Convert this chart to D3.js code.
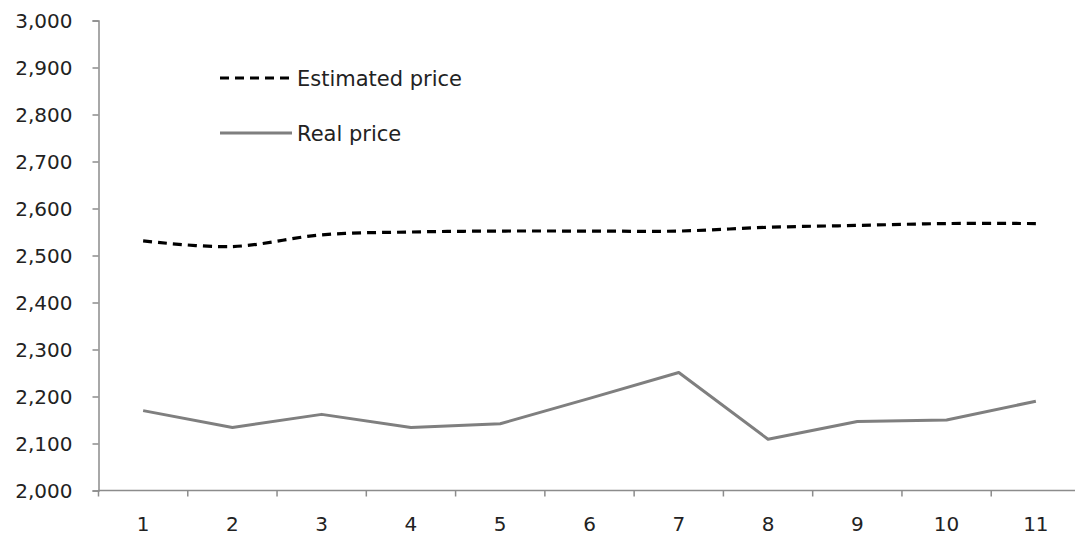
<!DOCTYPE html>
<html>
<head>
<meta charset="utf-8">
<script src="https://cdn.jsdelivr.net/npm/d3@7"></script>
<style>
  html, body { margin: 0; padding: 0; background: #fff; }
  svg { display: block; }
  text { font-family: "DejaVu Sans", Verdana, sans-serif; fill: #222; }
</style>
</head>
<body>
<svg id="chart" width="1075" height="535"></svg>
<script>
const categories = ["1","2","3","4","5","6","7","8","9","10","11"];
const estimatedPrice = [2531, 2519, 2544, 2550, 2552, 2552, 2552, 2560, 2564, 2568, 2568];
const realPrice = [2170, 2134, 2162, 2134, 2142, 2196, 2251, 2109, 2147, 2150, 2190];
const yTicks = [2000, 2100, 2200, 2300, 2400, 2500, 2600, 2700, 2800, 2900, 3000];
const seriesNames = ["Estimated price", "Real price"];

const svg = d3.select("#chart");
const x = d3.scaleBand().domain(categories).range([98.5, 1080.5]);
const y = d3.scaleLinear().domain([2000, 3000]).range([490.5, 20.5]);

// Y axis
const yAxis = d3.axisLeft(y).tickValues(yTicks).tickSize(6).tickPadding(20)
  .tickFormat(d3.format(","));
const gy = svg.append("g").attr("transform", "translate(98.5,0)").call(yAxis);
gy.selectAll("path, line").attr("stroke", "#8c8c8c").attr("stroke-width", 1.5);
gy.selectAll("text").attr("font-size", 20).attr("dy", "0.35em")
  .attr("font-family", "DejaVu Sans").attr("fill", "#222");

// X axis with ticks at band boundaries
const gx = svg.append("g").attr("transform", "translate(0,490.5)");
gx.append("line").attr("x1", x.range()[0]).attr("x2", x.range()[1])
  .attr("stroke", "#8c8c8c").attr("stroke-width", 1.5);
gx.selectAll("line.tick").data(categories).join("line").attr("class", "tick")
  .attr("x1", d => x(d)).attr("x2", d => x(d)).attr("y1", 0).attr("y2", 6)
  .attr("stroke", "#8c8c8c").attr("stroke-width", 1.5);
gx.selectAll("text").data(categories).join("text")
  .attr("x", d => x(d) + x.bandwidth() / 2).attr("y", 40)
  .attr("text-anchor", "middle").attr("font-size", 20).text(d => d);

const cx = (d, i) => x(categories[i]) + x.bandwidth() / 2;

// Estimated (smoothed dashed)
svg.append("path").datum(estimatedPrice)
  .attr("d", d3.line().x(cx).y(d => y(d)).curve(d3.curveCatmullRom.alpha(0.5)))
  .attr("fill", "none").attr("stroke", "#000").attr("stroke-width", 3.2)
  .attr("stroke-dasharray", "9,6");

// Real (straight gray)
svg.append("path").datum(realPrice)
  .attr("d", d3.line().x(cx).y(d => y(d)))
  .attr("fill", "none").attr("stroke", "#7f7f7f").attr("stroke-width", 3)
  .attr("stroke-linejoin", "round");

// Legend
const legend = svg.append("g");
legend.append("line").attr("x1", 220).attr("x2", 292).attr("y1", 78).attr("y2", 78)
  .attr("stroke", "#000").attr("stroke-width", 3.2).attr("stroke-dasharray", "9,6");
legend.append("line").attr("x1", 220).attr("x2", 292).attr("y1", 133).attr("y2", 133)
  .attr("stroke", "#7f7f7f").attr("stroke-width", 3);
legend.append("text").attr("x", 297).attr("y", 86).attr("font-size", 21).text(seriesNames[0]);
legend.append("text").attr("x", 297).attr("y", 141).attr("font-size", 21).text(seriesNames[1]);
</script>
</body>
</html>
